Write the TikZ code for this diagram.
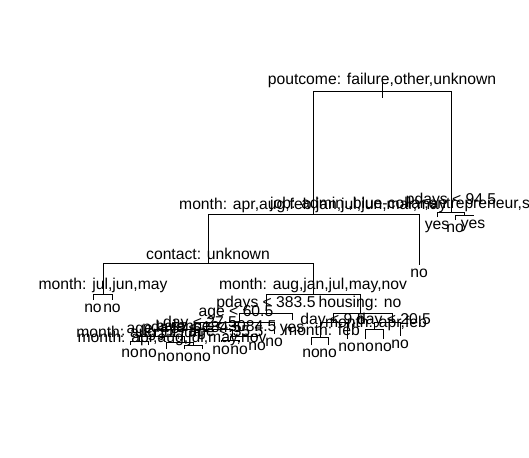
\documentclass[tikz,border=0pt]{standalone}
\usepackage{fontspec}
\setmainfont{Liberation Sans}
\begin{document}
\begin{tikzpicture}[x=1pt,y=-1pt,
  lbl/.style={inner sep=0pt,font=\fontsize{15.7}{18}\selectfont},
  edge/.style={line width=0.9pt}]
\fill[white] (0,0) rectangle (529,457);
\path[use as bounding box] (0,0) rectangle (529,457);
\clip (0,0) rectangle (529,457);
\newcommand\splitbar[3]{\draw[edge] (#2) -- (#2 |- #1) -- (#3 |- #1) -- (#3);}
% tree points
\coordinate (rt) at (382,83); \coordinate (rb) at (382,98);
\coordinate (n0) at (382,91);
\coordinate (n1) at (313,214);
\coordinate (n2) at (451,212);
\coordinate (n3) at (464,215);
\coordinate (n4) at (208,263);
\coordinate (n5) at (103,294);
\coordinate (n6) at (313,294);
\coordinate (n7) at (266,313);
\coordinate (n8) at (360,313);
\coordinate (n9) at (239,322);
\coordinate (n10) at (333,322);
\coordinate (n11) at (392,322);
\coordinate (n12) at (320,337);
\coordinate (n13) at (374,329);
\coordinate (n14) at (200,329);
\coordinate (n15) at (155,336);
\coordinate (n16) at (232,336);
\coordinate (n17) at (139,341);
\coordinate (n18) at (184,342);
\coordinate (n19) at (193,345);
\coordinate (n20) at (230,340);
% leaves
\coordinate (l1) at (437,217);
\coordinate (l2) at (455,220);
\coordinate (l3) at (473,216);
\coordinate (l4) at (419,265);
\coordinate (l5) at (93,300);
\coordinate (l6) at (112,300);
\coordinate (l7) at (292,320);
\coordinate (l8) at (347,339);
\coordinate (l9) at (311,345);
\coordinate (l10) at (328,345);
\coordinate (l11) at (400,336);
\coordinate (l12) at (365,339);
\coordinate (l13) at (383,339);
\coordinate (l14) at (274,334);
\coordinate (l15) at (130,345);
\coordinate (l16) at (148,345);
\coordinate (l17) at (166,349);
\coordinate (l18) at (184,349);
\coordinate (l19) at (202,349);
\coordinate (l20) at (221,342);
\coordinate (l21) at (239,342);
\coordinate (l22) at (257,338);
% connectors
\draw[edge] (rt) -- (rb);
\splitbar{n0}{n1}{n2}
\splitbar{n2}{l1}{n3}
\splitbar{n3}{l2}{l3}
\splitbar{n1}{n4}{l4}
\splitbar{n4}{n5}{n6}
\splitbar{n5}{l5}{l6}
\splitbar{n6}{n7}{n8}
\splitbar{n7}{n9}{l7}
\splitbar{n8}{n10}{n11}
\splitbar{n10}{n12}{l8}
\splitbar{n12}{l9}{l10}
\splitbar{n11}{n13}{l11}
\splitbar{n13}{l12}{l13}
\splitbar{n9}{n14}{l14}
\splitbar{n14}{n15}{n16}
\splitbar{n15}{n17}{n18}
\splitbar{n17}{l15}{l16}
\splitbar{n18}{l17}{n19}
\splitbar{n19}{l18}{l19}
\splitbar{n16}{n20}{l22}
\splitbar{n20}{l20}{l21}
% split labels
\node[lbl] (t0) at (382,80) {poutcome: failure,other,unknown};
\node[lbl] (t1) at (313,205) {month: apr,aug,feb,jan,jul,jun,mar,may};
\node[lbl] (t2) at (451,200) {pdays < 94.5};
\node[lbl,anchor=west] (t3) at (270,204) {job: admin.,blue-collar,entrepreneur,services,technician};
\node[lbl] (t4) at (208,254) {contact: unknown};
\node[lbl] (t5) at (103,285) {month: jul,jun,may};
\node[lbl] (t6) at (313,285) {month: aug,jan,jul,may,nov};
\node[lbl] (t7) at (266,303) {pdays < 383.5};
\node[lbl] (t8) at (360,303) {housing: no};
\node[lbl] (t9) at (236,313) {age < 60.5};
\node[lbl] (t10) at (333,320) {day < 9.5};
\node[lbl] (t11) at (394,320) {day < 20.5};
\node[lbl] (t12) at (322,330) {month: feb};
\node[lbl] (t13) at (376,323) {month: apr,feb};
\node[lbl] (t14) at (200,323) {day < 27.5};
\node[lbl] (t15) at (164,330) {age < 57.5};
\node[lbl] (t16) at (216,326) {balance < 3084.5};
\node[lbl] (t17) at (139,333) {month: aug,jul,jun};
\node[lbl] (t18) at (172,338) {month: apr,aug,jul,may,nov};
\node[lbl] (t19) at (192,328) {pdays < 184.5};
\node[lbl] (t20) at (226,333) {age < 35.5};
% leaf labels
\node[lbl,anchor=base] (f1) at (437,229) {yes};
\node[lbl,anchor=base] (f2) at (455,232) {no};
\node[lbl,anchor=base] (f3) at (473,228) {yes};
\node[lbl,anchor=base] (f4) at (419,277) {no};
\node[lbl,anchor=base] (f5) at (93,312) {no};
\node[lbl,anchor=base] (f6) at (112,312) {no};
\node[lbl,anchor=base] (f7) at (292,332) {yes};
\node[lbl,anchor=base] (f8) at (347,351) {no};
\node[lbl,anchor=base] (f9) at (311,357) {no};
\node[lbl,anchor=base] (f10) at (328,357) {no};
\node[lbl,anchor=base] (f11) at (400,348) {no};
\node[lbl,anchor=base] (f12) at (365,351) {no};
\node[lbl,anchor=base] (f13) at (383,351) {no};
\node[lbl,anchor=base] (f14) at (274,346) {no};
\node[lbl,anchor=base] (f15) at (130,357) {no};
\node[lbl,anchor=base] (f16) at (148,357) {no};
\node[lbl,anchor=base] (f17) at (166,361) {no};
\node[lbl,anchor=base] (f18) at (184,361) {no};
\node[lbl,anchor=base] (f19) at (202,361) {no};
\node[lbl,anchor=base] (f20) at (221,354) {no};
\node[lbl,anchor=base] (f21) at (239,354) {no};
\node[lbl,anchor=base] (f22) at (257,350) {no};
\end{tikzpicture}
\end{document}
